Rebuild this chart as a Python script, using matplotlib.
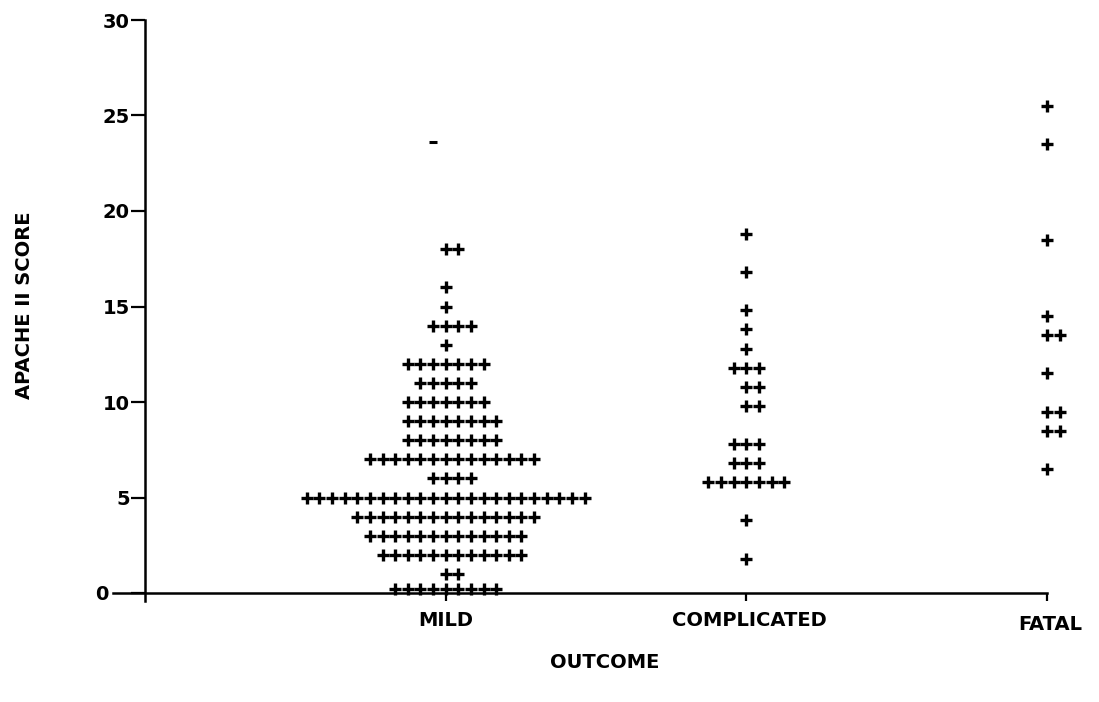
import matplotlib
matplotlib.use("Agg")
import matplotlib.pyplot as plt
from matplotlib.transforms import ScaledTranslation

# Outcome groups and APACHE II scores; each count is the number of patients
# sharing that score within the group.
categories = ["MILD", "COMPLICATED", "FATAL"]

mild_scores = [18, 16, 15, 14, 13, 12, 11, 10, 9, 8, 7, 6, 5, 4, 3, 2, 1, 0.2]
mild_counts = [2, 1, 1, 4, 1, 7, 5, 7, 8, 8, 14, 4, 23, 15, 13, 12, 2, 9]

comp_scores = [18.8, 16.8, 14.8, 13.8, 12.8, 11.8, 10.8, 9.8, 7.8, 6.8, 5.8, 3.8, 1.8]
comp_counts = [1, 1, 1, 1, 1, 3, 2, 2, 3, 3, 7, 1, 1]

fatal_scores = [25.5, 23.5, 18.5, 14.5, 13.5, 11.5, 9.5, 8.5, 6.5]
fatal_counts = [1, 1, 1, 1, 2, 1, 2, 2, 1]

# a lone dash above the mild column
stray_score = 23.6

y_ticks = [0, 5, 10, 15, 20, 25, 30]

groups = [(mild_scores, mild_counts),
          (comp_scores, comp_counts),
          (fatal_scores, fatal_counts)]

SLOT = 0.042          # horizontal step between stacked symbols
FONT = "DejaVu Sans"
FS = 14

fig = plt.figure(figsize=(10.99, 7.02), dpi=100)
ax = fig.add_axes([145 / 1099, 109 / 702, 902 / 1099, 573 / 702])
ax.set_xlim(0, 3)
ax.set_ylim(0, 30)

for i, (scores, counts) in enumerate(groups):
    xs, ys = [], []
    for s, n in zip(scores, counts):
        for k in range(n):
            xs.append(i + 1 + (k - (n - 1) // 2) * SLOT)
            ys.append(s)
    ax.plot(xs, ys, ls="none", marker="+", ms=9, mew=2.4,
            color="black", clip_on=False)

ax.plot([1 - SLOT], [stray_score], ls="none", marker="_", ms=6,
        mew=2.2, color="black", clip_on=False)

# axes frame: left and bottom lines only
for side in ("top", "right"):
    ax.spines[side].set_visible(False)
for side in ("left", "bottom"):
    ax.spines[side].set_linewidth(1.8)
    ax.spines[side].set_color("black")
ax.spines["left"].set_bounds(-0.4, 30)
ax.spines["bottom"].set_bounds(-0.106, 3)

ax.set_yticks(y_ticks)
ax.set_yticklabels([str(v) for v in y_ticks], fontfamily=FONT,
                   fontweight="bold", fontsize=FS)
ax.tick_params(axis="y", direction="out", length=10, width=1.6, pad=1,
               color="black")
zero_label = ax.get_yticklabels()[0]
zero_label.set_transform(zero_label.get_transform()
                         + ScaledTranslation(-0.21, 0, fig.dpi_scale_trans))

ax.set_xticks([1, 2, 3])
ax.set_xticklabels(["", "", ""])
ax.tick_params(axis="x", direction="out", length=6, width=1.6, color="black")

label_offsets = [(0, -27), (3, -27), (3, -31)]
for i, (name, (dx, dy)) in enumerate(zip(categories, label_offsets)):
    ax.annotate(name, xy=(i + 1, 0), xycoords=("data", "axes fraction"),
                xytext=(dx * 0.72, dy * 0.72), textcoords="offset points",
                ha="center", va="center", fontfamily=FONT,
                fontweight="bold", fontsize=FS, annotation_clip=False)

fig.text(605 / 1099, 1 - 663 / 702, "OUTCOME", ha="center", va="center",
         fontfamily=FONT, fontweight="bold", fontsize=FS)
fig.text(25 / 1099, 1 - 305 / 702, "APACHE II SCORE", ha="center",
         va="center", rotation=90, fontfamily=FONT, fontweight="bold",
         fontsize=FS)

fig.savefig("out.png", dpi=100, facecolor="white")
